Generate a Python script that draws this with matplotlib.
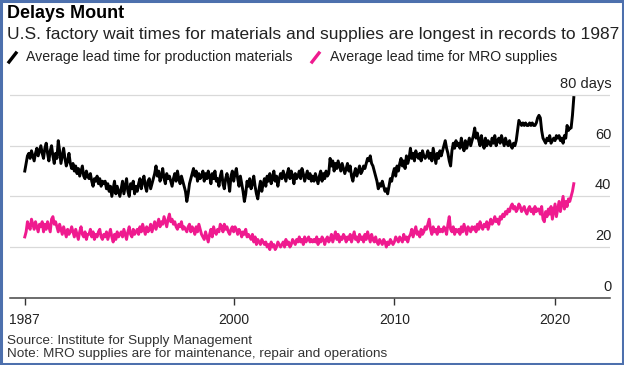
import numpy as np
import matplotlib.pyplot as plt
from matplotlib.lines import Line2D
from matplotlib.patches import Rectangle

plt.rcParams['font.family'] = ['Liberation Sans', 'DejaVu Sans']

# === Monthly lead times in days, Jan 1987 - Mar 2021 ===
production = [
    50, 53, 56, 57, 55, 58, 56, 54, 57, 59, 56, 58,  # 1987
    60, 57, 55, 59, 61, 57, 54, 58, 60, 56, 53, 57,  # 1988
    55, 62, 58, 53, 56, 59, 55, 52, 54, 57, 53, 51,  # 1989
    53, 50, 52, 49, 51, 48, 50, 52, 48, 47, 50, 48,  # 1990
    47, 49, 46, 44, 47, 46, 48, 45, 47, 44, 46, 45,  # 1991
    46, 43, 45, 42, 44, 40, 43, 46, 41, 44, 42, 40,  # 1992
    43, 46, 41, 44, 47, 42, 40, 45, 43, 46, 41, 44,  # 1993
    42, 45, 47, 43, 46, 48, 44, 42, 46, 47, 43, 45,  # 1994
    47, 49, 52, 48, 50, 46, 48, 51, 47, 45, 49, 47,  # 1995
    48, 46, 44, 47, 49, 46, 50, 47, 45, 48, 46, 44,  # 1996
    42, 38, 41, 45, 47, 49, 51, 48, 50, 46, 49, 47,  # 1997
    48, 50, 46, 49, 47, 50, 48, 45, 49, 47, 50, 46,  # 1998
    47, 44, 48, 50, 45, 43, 47, 49, 46, 42, 48, 50,  # 1999
    46, 49, 51, 47, 44, 48, 45, 42, 38, 41, 46, 44,  # 2000
    47, 43, 45, 48, 44, 41, 39, 43, 46, 42, 45, 47,  # 2001
    44, 48, 46, 49, 45, 47, 50, 46, 48, 44, 47, 49,  # 2002
    47, 50, 48, 46, 49, 51, 47, 50, 48, 45, 49, 47,  # 2003
    48, 50, 47, 51, 49, 46, 48, 50, 47, 49, 46, 48,  # 2004
    46, 49, 47, 45, 48, 50, 46, 49, 47, 50, 48, 49,  # 2005
    55, 52, 54, 50, 53, 51, 54, 52, 50, 53, 51, 49,  # 2006
    51, 53, 50, 52, 48, 46, 49, 51, 48, 50, 52, 49,  # 2007
    50, 52, 51, 53, 55, 54, 56, 53, 52, 50, 48, 46,  # 2008
    43, 45, 44, 46, 44, 42, 43, 41, 44, 47, 46, 49,  # 2009
    51, 48, 52, 50, 53, 55, 52, 54, 51, 56, 53, 55,  # 2010
    59, 55, 57, 54, 58, 56, 55, 57, 54, 58, 56, 55,  # 2011
    56, 58, 55, 57, 54, 59, 56, 53, 57, 55, 58, 56,  # 2012
    58, 60, 62, 59, 57, 54, 52, 58, 61, 59, 62, 60,  # 2013
    61, 59, 63, 60, 58, 62, 59, 61, 63, 60, 62, 64,  # 2014
    67, 63, 65, 62, 60, 64, 61, 59, 63, 60, 62, 61,  # 2015
    60, 63, 61, 64, 60, 62, 63, 61, 64, 62, 60, 63,  # 2016
    61, 60, 62, 60, 59, 61, 60, 62, 66, 70, 69, 68,  # 2017
    69, 68, 69, 68, 68, 69, 68, 69, 68, 68, 69, 71,  # 2018
    72, 71, 66, 63, 62, 61, 63, 62, 64, 61, 62, 63,  # 2019
    62, 64, 63, 64, 62, 63, 61, 64, 63, 68, 66, 67,  # 2020
    67, 72, 79,                                      # 2021
]

mro = [
    24, 26, 30, 28, 27, 31, 29, 27, 30, 28, 26, 29,  # 1987
    28, 30, 26, 29, 27, 30, 28, 26, 31, 32, 29, 30,  # 1988
    28, 26, 29, 27, 25, 28, 26, 24, 27, 25, 26, 28,  # 1989
    26, 24, 27, 25, 23, 26, 28, 25, 24, 26, 23, 25,  # 1990
    25, 27, 24, 26, 23, 25, 24, 26, 27, 24, 23, 25,  # 1991
    24, 26, 23, 25, 27, 24, 22, 25, 23, 26, 24, 25,  # 1992
    26, 24, 27, 25, 23, 26, 28, 25, 24, 27, 25, 26,  # 1993
    27, 25, 28, 26, 29, 27, 25, 28, 26, 27, 29, 26,  # 1994
    28, 30, 27, 29, 31, 28, 30, 29, 32, 30, 28, 31,  # 1995
    33, 30, 31, 29, 30, 28, 27, 29, 28, 30, 27, 28,  # 1996
    27, 26, 28, 29, 26, 28, 27, 25, 28, 26, 29, 27,  # 1997
    25, 24, 23, 26, 24, 22, 25, 27, 24, 28, 26, 25,  # 1998
    27, 26, 29, 28, 26, 29, 27, 28, 26, 25, 27, 28,  # 1999
    26, 28, 27, 25, 27, 26, 24, 26, 25, 27, 24, 25,  # 2000
    24, 23, 25, 22, 24, 21, 23, 22, 21, 23, 22, 21,  # 2001
    22, 20, 21, 19, 22, 20, 21, 19, 20, 22, 21, 20,  # 2002
    21, 22, 20, 23, 21, 22, 20, 21, 23, 22, 21, 23,  # 2003
    22, 24, 22, 23, 21, 24, 22, 23, 24, 22, 23, 22,  # 2004
    23, 22, 24, 21, 23, 22, 24, 23, 21, 23, 24, 22,  # 2005
    23, 25, 22, 24, 26, 23, 25, 22, 24, 23, 25, 24,  # 2006
    22, 24, 23, 25, 22, 24, 26, 23, 24, 22, 25, 23,  # 2007
    24, 22, 25, 23, 26, 24, 22, 25, 23, 22, 24, 22,  # 2008
    21, 23, 22, 21, 23, 22, 20, 22, 21, 23, 22, 21,  # 2009
    22, 24, 23, 22, 24, 23, 22, 25, 23, 24, 22, 24,  # 2010
    25, 27, 24, 26, 28, 25, 26, 24, 27, 25, 26, 28,  # 2011
    27, 29, 31, 27, 25, 28, 26, 27, 25, 28, 26, 27,  # 2012
    26, 28, 27, 25, 29, 32, 27, 26, 28, 25, 27, 26,  # 2013
    27, 25, 28, 26, 29, 27, 25, 28, 27, 26, 28, 27,  # 2014
    28, 26, 29, 27, 30, 28, 27, 29, 28, 30, 27, 29,  # 2015
    31, 29, 30, 32, 30, 31, 29, 32, 31, 33, 32, 34,  # 2016
    33, 35, 34, 36, 37, 35, 36, 34, 35, 37, 36, 34,  # 2017
    35, 36, 34, 33, 35, 36, 34, 35, 33, 36, 34, 35,  # 2018
    35, 33, 36, 31, 30, 34, 32, 35, 33, 36, 31, 34,  # 2019
    37, 32, 35, 38, 34, 37, 40, 35, 38, 36, 39, 38,  # 2020
    40, 42, 45,                                      # 2021
]

x_ticks = [1987, 2000, 2010, 2020]
x_labels = ["1987", "2000", "2010", "2020"]
y_ticks = [0, 20, 40, 60, 80]
y_labels = ["0", "20", "40", "60", "80 days"]

BLACK = "#000000"
PINK = "#ef1a8f"
W, H = 624, 365


def fx(px):
    return px / W


def fy(py):
    return 1 - py / H


fig = plt.figure(figsize=(W / 100, H / 100), dpi=100)
ax = fig.add_axes([fx(10), fy(297.7), 600 / W, (297.7 - 90) / H])

months = 1987 + np.arange(len(production)) / 12
ax.plot(months, production, color=BLACK, lw=2.1, zorder=3)
ax.plot(months[:len(mro)], mro, color=PINK, lw=2.1, zorder=3)

ax.set_xlim(1986.08, 2023.42)
ax.set_ylim(0, 82)

for v in y_ticks[1:]:
    ax.axhline(v, color="#d9d9d9", lw=0.9, zorder=0)
for v, lab in zip(y_ticks, y_labels):
    ax.annotate(lab, xy=(1, v), xycoords=("axes fraction", "data"),
                xytext=(1, 3), textcoords="offset points",
                ha="right", va="bottom", fontsize=10.5, color="#222222")

for s in ["top", "left", "right"]:
    ax.spines[s].set_visible(False)
ax.spines["bottom"].set_color("#444444")
ax.spines["bottom"].set_linewidth(1.1)
ax.set_yticks([])
ax.set_xticks(x_ticks)
ax.set_xticklabels(x_labels)
ax.tick_params(axis="x", length=5, width=1, color="#333333", pad=6,
               labelsize=10, labelcolor="#222222")

# Titles
fig.text(fx(7), fy(14), "Delays Mount", fontsize=13, fontweight="bold",
         va="center", ha="left", color="black")
fig.text(fx(7), fy(35), "U.S. factory wait times for materials and supplies are longest in records to 1987",
         fontsize=12.5, va="center", ha="left", color="#222222")

# Legend
fig.add_artist(Line2D([fx(9), fx(16)], [fy(62), fy(53)], color=BLACK, lw=2.4))
fig.text(fx(26), fy(57.5), "Average lead time for production materials", fontsize=10.2,
         va="center", ha="left", color="#222222")
fig.add_artist(Line2D([fx(312), fx(319)], [fy(62), fy(53)], color=PINK, lw=2.4))
fig.text(fx(330), fy(57.5), "Average lead time for MRO supplies", fontsize=10.2,
         va="center", ha="left", color="#222222")

# Footer
fig.text(fx(7), fy(341), "Source: Institute for Supply Management", fontsize=9.7,
         va="center", ha="left", color="#333333")
fig.text(fx(7), fy(354), "Note: MRO supplies are for maintenance, repair and operations",
         fontsize=9.7, va="center", ha="left", color="#333333")

# Picture frame
fig.add_artist(Rectangle((0.002, 0.003), 0.996, 0.994, transform=fig.transFigure,
                         fill=False, edgecolor="#4d70ad", lw=2.2))

fig.savefig("out.png", dpi=100)
